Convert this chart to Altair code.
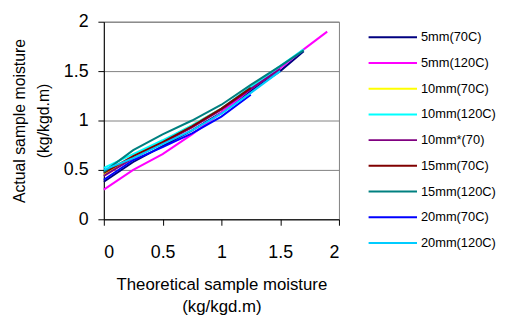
import altair as alt
import pandas as pd

series_names = ["5mm(70C)", "5mm(120C)", "10mm(70C)", "10mm(120C)", "10mm*(70)",
                "15mm(70C)", "15mm(120C)", "20mm(70C)", "20mm(120C)"]
series_colors = ["#000080", "#FF00FF", "#FFFF00", "#00FFFF", "#800080",
                 "#800000", "#008080", "#0000FF", "#00CCFF"]

x_5mm_70 = [0, 0.25, 0.5, 0.75, 1.0, 1.25, 1.5, 1.7]
y_5mm_70 = [0.38, 0.58, 0.74, 0.90, 1.08, 1.30, 1.50, 1.70]
x_5mm_120 = [0, 0.25, 0.5, 0.75, 1.0, 1.25, 1.5, 1.7, 1.9]
y_5mm_120 = [0.30, 0.50, 0.66, 0.86, 1.08, 1.32, 1.53, 1.72, 1.90]
x_10mm_70 = [0, 0.25, 0.5, 0.75, 1.0, 1.25]
y_10mm_70 = [0.45, 0.64, 0.79, 0.95, 1.12, 1.33]
x_10mm_120 = [0, 0.25, 0.5, 0.75, 1.0, 1.25, 1.5, 1.7]
y_10mm_120 = [0.52, 0.66, 0.80, 0.95, 1.12, 1.34, 1.55, 1.72]
x_10mm_s70 = [0, 0.25, 0.5, 0.75, 1.0, 1.25, 1.5]
y_10mm_s70 = [0.44, 0.62, 0.77, 0.93, 1.11, 1.32, 1.52]
x_15mm_70 = [0, 0.25, 0.5, 0.75, 1.0, 1.25]
y_15mm_70 = [0.47, 0.64, 0.78, 0.94, 1.12, 1.33]
x_15mm_120 = [0, 0.25, 0.5, 0.75, 1.0, 1.25, 1.5, 1.7]
y_15mm_120 = [0.48, 0.70, 0.86, 1.00, 1.16, 1.36, 1.55, 1.71]
x_20mm_70 = [0, 0.25, 0.5, 0.75, 1.0, 1.25]
y_20mm_70 = [0.40, 0.60, 0.73, 0.87, 1.04, 1.26]
x_20mm_120 = [0, 0.25, 0.5, 0.75, 1.0, 1.25, 1.5]
y_20mm_120 = [0.50, 0.62, 0.76, 0.90, 1.07, 1.28, 1.50]

xs = [x_5mm_70, x_5mm_120, x_10mm_70, x_10mm_120, x_10mm_s70,
      x_15mm_70, x_15mm_120, x_20mm_70, x_20mm_120]
ys = [y_5mm_70, y_5mm_120, y_10mm_70, y_10mm_120, y_10mm_s70,
      y_15mm_70, y_15mm_120, y_20mm_70, y_20mm_120]

rows = []
for i, (name, xv, yv) in enumerate(zip(series_names, xs, ys)):
    for j, (a, b) in enumerate(zip(xv, yv)):
        rows.append({"series": name, "x": a, "y": b, "order": i, "idx": j})
df = pd.DataFrame(rows)
leg = pd.DataFrame({"series": series_names})

FONT = "Liberation Sans"
color = alt.Color("series:N", scale=alt.Scale(domain=series_names, range=series_colors), legend=None)

lines = alt.Chart(df).mark_line(strokeWidth=2).encode(
    x=alt.X("x:Q", scale=alt.Scale(domain=[0, 2], nice=False),
            axis=alt.Axis(values=[0, 0.5, 1, 1.5, 2], format="~g",
                          title=["Theoretical sample moisture", "(kg/kgd.m)"],
                          grid=False, domainColor="black", tickColor="black", tickSize=6,
                          labelFontSize=18, labelColor="black", labelFont=FONT, labelPadding=19,
                          titleFont=FONT, titleFontSize=17, titleFontWeight="normal", titleColor="black",
                          titlePadding=15, titleLineHeight=22)),
    y=alt.Y("y:Q", scale=alt.Scale(domain=[0, 2], nice=False),
            axis=alt.Axis(values=[0, 0.5, 1, 1.5, 2], format="~g",
                          title=["Actual sample moisture", "(kg/kgd.m)"],
                          grid=True, gridColor="#808080", gridWidth=1,
                          domainColor="black", tickColor="black", tickSize=6,
                          labelFontSize=18, labelColor="black", labelFont=FONT, labelPadding=10,
                          titleFont=FONT, titleFontSize=16, titleFontWeight="normal", titleColor="black",
                          titlePadding=12, titleLineHeight=24)),
    color=color,
    detail="series:N",
    order="idx:Q",
)

leg_y = alt.Y("series:N", sort=series_names,
              scale=alt.Scale(type="point", domain=series_names, range=[15.7, 224], padding=0),
              axis=None)
leg_rule = alt.Chart(leg).mark_rule(strokeWidth=2).encode(
    y=leg_y, x=alt.value(268), x2=alt.value(317), color=color)
leg_text = alt.Chart(leg).mark_text(align="left", baseline="middle", font=FONT, fontSize=13,
                                    color="black").encode(
    y=leg_y, x=alt.value(321), text="series:N")

chart = alt.layer(lines, leg_rule, leg_text).resolve_scale(y="independent").properties(
    width=238, height=200,
    autosize=alt.AutoSizeParams(type="none"),
    padding={"left": 97, "top": 12, "right": 162, "bottom": 96},
).configure_view(stroke="#808080", strokeWidth=1)

chart.save("out.html", embed_options={"renderer": "svg", "actions": False})
